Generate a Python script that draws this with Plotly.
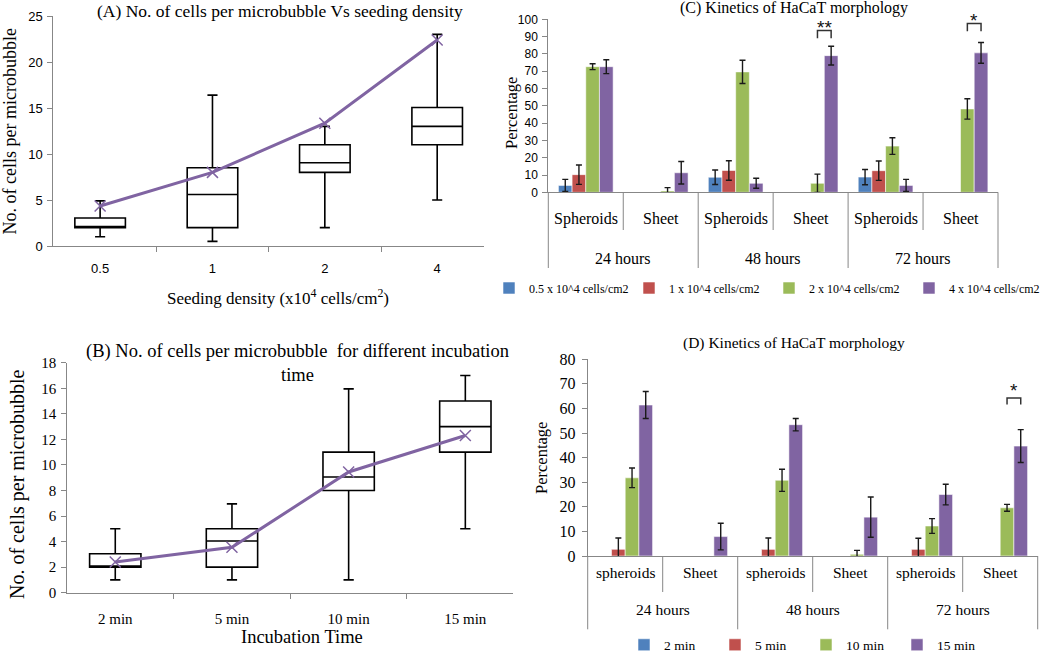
import plotly.graph_objects as go

W, H = 1050, 652
SERIF = "Liberation Serif"
SANS = "Liberation Sans"
PURPLE = "#8064A2"
AXIS_GREY = "#878787"
COLORS = ["#4F81BD", "#C0504D", "#9BBB59", "#8064A2"]

# ---------------- Panel A data ----------------
A_categories = ["0.5", "1", "2", "4"]
A_lowerfence = [1.0, 0.5, 2.0, 5.0]
A_q1 = [2.0, 2.0, 8.0, 11.0]
A_median = [2.0, 5.6, 9.05, 13.0]
A_q3 = [3.05, 8.5, 11.0, 15.05]
A_upperfence = [4.9, 16.4, 13.0, 23.0]
A_mean = [4.35, 8.0, 13.35, 22.4]

# ---------------- Panel B data ----------------
B_categories = ["2 min", "5 min", "10 min", "15 min"]
B_lowerfence = [1.0, 1.0, 1.0, 5.0]
B_q1 = [2.0, 2.0, 8.0, 11.0]
B_median = [2.0, 4.05, 9.05, 13.0]
B_q3 = [3.05, 5.0, 11.0, 15.0]
B_upperfence = [5.0, 6.95, 15.95, 17.0]
B_mean = [2.4, 3.55, 9.45, 12.3]

# ---------------- Panels C & D data ----------------
time_groups = ["24 hours", "48 hours", "72 hours"]
C_morph = ["Spheroids", "Sheet"]
D_morph = ["spheroids", "Sheet"]

C_series = ["0.5 x 10^4 cells/cm2", "1 x 10^4 cells/cm2",
            "2 x 10^4 cells/cm2", "4 x 10^4 cells/cm2"]
C_values = [
    [4.0, None, 8.7, None, 8.8, None],
    [10.2, None, 12.6, None, 12.5, None],
    [72.6, 0.8, 69.6, 5.2, 26.7, 48.2],
    [72.6, 11.3, 5.2, 79.0, 4.0, 80.6],
]
C_errors = [
    [3.5, None, 4.2, None, 4.4, None],
    [5.6, None, 5.6, None, 5.6, None],
    [1.7, 1.9, 6.7, 5.3, 4.8, 5.9],
    [4.0, 6.5, 2.9, 5.4, 3.5, 6.0],
]
C_sig_index = [3, 5]
C_sig_text = ["**", "*"]
C_sig_level = [93.5, 97.5]

D_series = ["2 min", "5 min", "10 min", "15 min"]
D_values = [
    [None, None, None, None, None, None],
    [2.7, None, 2.7, None, 2.7, None],
    [31.8, None, 30.8, 0.7, 12.2, 19.6],
    [61.4, 7.9, 53.4, 15.8, 25.0, 44.7],
]
D_errors = [
    [None, None, None, None, None, None],
    [4.6, None, 4.6, None, 4.5, None],
    [4.0, None, 4.5, 1.6, 3.0, 1.4],
    [5.5, 5.4, 2.5, 8.2, 4.2, 6.7],
]
D_sig_index = [5]
D_sig_text = ["*"]
D_sig_level = [64.3]

BARGAP = 0.27


def px_y(p):
    return (H - p) / H


def px_x(p):
    return p / W


fig = go.Figure()

# ---------- Panel A ----------
fig.add_trace(go.Box(
    x=A_categories, q1=A_q1, median=A_median, q3=A_q3,
    lowerfence=A_lowerfence, upperfence=A_upperfence,
    width=0.45, whiskerwidth=0.2, fillcolor="white",
    line=dict(color="black", width=1.6), showlegend=False,
    hoverinfo="skip", xaxis="x", yaxis="y"))
fig.add_trace(go.Scatter(
    x=A_categories, y=A_mean, mode="lines+markers",
    line=dict(color=PURPLE, width=3),
    marker=dict(symbol="x-thin", size=11, line=dict(color=PURPLE, width=1.5)),
    showlegend=False, xaxis="x", yaxis="y"))

# ---------- Panel B ----------
fig.add_trace(go.Box(
    x=B_categories, q1=B_q1, median=B_median, q3=B_q3,
    lowerfence=B_lowerfence, upperfence=B_upperfence,
    width=0.44, whiskerwidth=0.2, fillcolor="white",
    line=dict(color="black", width=1.6), showlegend=False,
    hoverinfo="skip", xaxis="x2", yaxis="y2"))
fig.add_trace(go.Scatter(
    x=B_categories, y=B_mean, mode="lines+markers",
    line=dict(color=PURPLE, width=3),
    marker=dict(symbol="x-thin", size=11, line=dict(color=PURPLE, width=1.5)),
    showlegend=False, xaxis="x2", yaxis="y2"))

# ---------- Panels C & D (bars) ----------
C_x = [f"{t} | {m}" for t in time_groups for m in C_morph]
D_x = [f"{t} | {m}" for t in time_groups for m in D_morph]

for name, vals, errs, col in zip(C_series, C_values, C_errors, COLORS):
    fig.add_trace(go.Bar(
        x=C_x, y=vals, name=name,
        marker=dict(color=col, line=dict(color="rgba(255,255,255,0.55)", width=1)),
        error_y=dict(type="data", array=errs, color="#1a1a1a", thickness=1.4, width=3),
        xaxis="x3", yaxis="y3", legend="legend"))

for name, vals, errs, col in zip(D_series, D_values, D_errors, COLORS):
    fig.add_trace(go.Bar(
        x=D_x, y=vals, name=name,
        marker=dict(color=col, line=dict(color="rgba(255,255,255,0.55)", width=1)),
        error_y=dict(type="data", array=errs, color="#1a1a1a", thickness=1.4, width=3),
        xaxis="x4", yaxis="y4", legend="legend2"))

annotations = []
shapes = []

# Titles & axis titles
annotations += [
    dict(text="(A) No. of cells per microbubble Vs seeding density", x=px_x(280), y=px_y(11),
         font=dict(family=SERIF, size=17.5)),
    dict(text="Seeding density (x10<sup>4</sup> cells/cm<sup>2</sup>)", x=px_x(278), y=px_y(297),
         font=dict(family=SERIF, size=17)),
    dict(text="No. of cells per microbubble", x=px_x(9.5), y=px_y(132), textangle=-90,
         font=dict(family=SERIF, size=18)),
    dict(text="(B) No. of cells per microbubble  for different incubation<br>time", x=px_x(297),
         y=px_y(362.5), font=dict(family=SERIF, size=18.5)),
    dict(text="No. of cells per microbubble", x=px_x(17), y=px_y(485), textangle=-90,
         font=dict(family=SERIF, size=20)),
    dict(text="Incubation Time", x=px_x(302), y=px_y(637), font=dict(family=SERIF, size=18.5)),
    dict(text="(C) Kinetics of HaCaT morphology", x=px_x(794), y=px_y(8), font=dict(family=SERIF, size=16)),
    dict(text="Percentage", x=px_x(511), y=px_y(113), textangle=-90, font=dict(family=SERIF, size=16.5)),
    dict(text="(D) Kinetics of HaCaT morphology", x=px_x(794), y=px_y(343),
         font=dict(family=SERIF, size=15.5)),
    dict(text="Percentage", x=px_x(542), y=px_y(458), textangle=-90, font=dict(family=SERIF, size=16.5)),
]
for a in annotations:
    a.update(xref="paper", yref="paper", showarrow=False, xanchor="center", yanchor="middle")


def category_frame(xref, morphs, sub_y, grp_y, axis_y, inner_y, outer_y, fsize):
    n = len(time_groups) * len(morphs)
    i = 0
    for g, t in enumerate(time_groups):
        for m in morphs:
            annotations.append(dict(text=m, x=i, xref=xref, y=px_y(sub_y), yref="paper",
                                    showarrow=False, font=dict(family=SERIF, size=fsize)))
            i += 1
        annotations.append(dict(text=t, x=g * len(morphs) + (len(morphs) - 1) / 2, xref=xref,
                                y=px_y(grp_y), yref="paper", showarrow=False,
                                font=dict(family=SERIF, size=fsize)))
    for k in range(n + 1):
        bottom = outer_y if k % len(morphs) == 0 else inner_y
        shapes.append(dict(type="line", xref=xref + " domain", yref="paper",
                           x0=k / n, x1=k / n, y0=px_y(axis_y), y1=px_y(bottom),
                           line=dict(color=AXIS_GREY, width=1)))


category_frame("x3", C_morph, 219, 258, 192.3, 230, 268, 16)
category_frame("x4", D_morph, 582.5, 620, 556, 592, 629.3, 15.5)


def sig_marks(xref, yref, idx, texts, levels, drop, fsize, shift):
    w = (1 - BARGAP) / 4
    for i, t, lv in zip(idx, texts, levels):
        xg = i + 0.5 * w
        xp = i + 1.5 * w
        shapes.append(dict(type="path", xref=xref, yref=yref,
                           path=f"M {xg},{lv - drop} L {xg},{lv} L {xp},{lv} L {xp},{lv - drop}",
                           line=dict(color="#333", width=1.5)))
        annotations.append(dict(text=t, x=(xg + xp) / 2, xref=xref, y=lv, yref=yref,
                                yanchor="bottom", yshift=shift, showarrow=False,
                                font=dict(family=SANS, size=fsize, color="#111")))


sig_marks("x3", "y3", C_sig_index, C_sig_text, C_sig_level, 4.4, 19, -9)
sig_marks("x4", "y4", D_sig_index, D_sig_text, D_sig_level, 2.7, 19, -5)

axis_common = dict(showline=True, linecolor=AXIS_GREY, linewidth=1, showgrid=False, zeroline=False,
                   ticks="outside", tickcolor=AXIS_GREY, ticklen=5)

fig.update_layout(
    width=W, height=H, margin=dict(l=0, r=0, t=0, b=0, autoexpand=False),
    paper_bgcolor="white", plot_bgcolor="white",
    barmode="group", bargap=BARGAP, bargroupgap=0,
    font=dict(family=SERIF, color="black"),
    xaxis=dict(domain=[px_x(53.3), px_x(484)], anchor="y", type="category", tickson="boundaries",
               tickfont=dict(family=SANS, size=13), ticklabelstandoff=10, **axis_common),
    yaxis=dict(domain=[px_y(246), px_y(16)], anchor="x", range=[0, 25], dtick=5,
               tickfont=dict(family=SANS, size=13), ticklabelstandoff=2, **axis_common),
    xaxis2=dict(domain=[px_x(67.3), px_x(513.3)], anchor="y2", type="category", tickson="boundaries",
                tickfont=dict(family=SERIF, size=15), ticklabelstandoff=12, **axis_common),
    yaxis2=dict(domain=[px_y(592.7), px_y(362.7)], anchor="x2", range=[0, 18], dtick=2,
                tickfont=dict(family=SERIF, size=15), ticklabelstandoff=2, **axis_common),
    xaxis3=dict(domain=[px_x(548.3), px_x(998)], anchor="y3", type="category", range=[-0.5, 5.5],
                showline=True, linecolor=AXIS_GREY, showticklabels=False, ticks="", showgrid=False),
    yaxis3=dict(domain=[px_y(192.3), px_y(19.3)], anchor="x3", range=[0, 100], dtick=10,
                tickfont=dict(family=SANS, size=12), ticklabelstandoff=2, **axis_common),
    xaxis4=dict(domain=[px_x(587.7), px_x(1037.7)], anchor="y4", type="category", range=[-0.5, 5.5],
                showline=True, linecolor=AXIS_GREY, showticklabels=False, ticks="", showgrid=False),
    yaxis4=dict(domain=[px_y(556), px_y(359.3)], anchor="x4", range=[0, 80], dtick=10,
                tickfont=dict(family=SERIF, size=16), ticklabelstandoff=3, **axis_common),
    legend=dict(orientation="h", x=px_x(489), xanchor="left", y=px_y(288), yanchor="middle",
                font=dict(family=SERIF, size=12), entrywidth=95, traceorder="normal",
                bgcolor="rgba(0,0,0,0)", itemclick=False),
    legend2=dict(orientation="h", x=px_x(624), xanchor="left", y=px_y(645), yanchor="middle",
                 font=dict(family=SERIF, size=13.5), entrywidth=46, traceorder="normal",
                 bgcolor="rgba(0,0,0,0)", itemclick=False),
    annotations=annotations, shapes=shapes,
)

fig.write_html("out.html", config={"displayModeBar": False},
               post_script="document.body.style.margin='0px';document.body.style.padding='0px';")
